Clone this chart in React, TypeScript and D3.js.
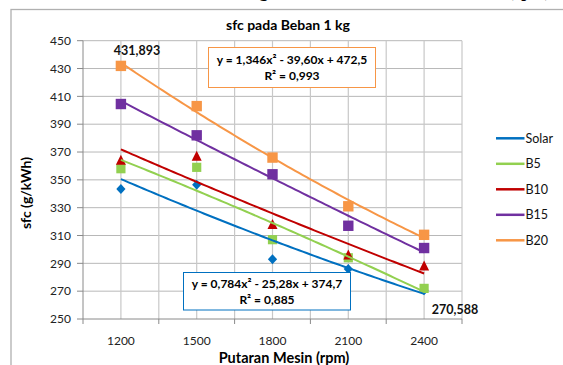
import React from 'react';
import * as d3 from 'd3';

// ---- data ----
const rpm = [1200, 1500, 1800, 2100, 2400];
const seriesNames = ['Solar', 'B5', 'B10', 'B15', 'B20'];
const solar = [343.5, 346.5, 293, 286, 270.588];
const b5 = [358, 359, 307, 294, 272];
const b10 = [364, 367, 318, 296, 288];
const b15 = [404.5, 382, 354, 317, 301];
const b20 = [431.893, 403, 366, 331, 310.5];
const yTicks = d3.range(250, 451, 20);
const title = 'sfc pada Beban 1 kg';
const xTitle = 'Putaran Mesin (rpm)';
const yTitle = 'sfc (g/kWh)';
const eqB20 = ['y = 1,346x² - 39,60x + 472,5', 'R² = 0,993'];
const eqSolar = ['y = 0,784x² - 25,28x + 374,7', 'R² = 0,885'];
const labelMax = '431,893';
const labelMin = '270,588';

const colors = ['#0070C0', '#92D050', '#C00000', '#7030A0', '#F79646'];
const markerTypes = ['diamond', 'squareS', 'triangle', 'square', 'square'];
const allSeries = [solar, b5, b10, b15, b20];

const FONT = 'Lato, "Open Sans", sans-serif';

// quadratic least-squares fit, x = 1..n (Excel category index)
function polyfit2(ys: number[]) {
  const xs = ys.map((_, i) => i + 1);
  const S = [0, 0, 0, 0, 0];
  const T = [0, 0, 0];
  xs.forEach((x, i) => {
    for (let k = 0; k < 5; k++) S[k] += Math.pow(x, k);
    for (let k = 0; k < 3; k++) T[k] += Math.pow(x, k) * ys[i];
  });
  const A = [
    [S[0], S[1], S[2], T[0]],
    [S[1], S[2], S[3], T[1]],
    [S[2], S[3], S[4], T[2]],
  ];
  for (let i = 0; i < 3; i++) {
    for (let j = i + 1; j < 3; j++) {
      const f = A[j][i] / A[i][i];
      for (let k = i; k < 4; k++) A[j][k] -= f * A[i][k];
    }
  }
  const c = [0, 0, 0];
  for (let i = 2; i >= 0; i--) {
    let s = A[i][3];
    for (let k = i + 1; k < 3; k++) s -= A[i][k] * c[k];
    c[i] = s / A[i][i];
  }
  return (x: number) => c[0] + c[1] * x + c[2] * x * x;
}

export default function App() {
  const W = 563, H = 365;
  const x = d3.scaleLinear().domain([1050, 2550]).range([83, 462]);
  const y = d3.scaleLinear().domain([250, 450]).range([319, 40.7]);
  const vGrid = d3.range(1200, 2551, 150);
  const xTickMarks = d3.range(1050, 2551, 300);

  const marker = (type: string, cx: number, cy: number, color: string, key: string) => {
    if (type === 'square') return <rect key={key} x={cx - 5.2} y={cy - 5.2} width={10.4} height={10.4} fill={color} />;
    if (type === 'squareS') return <rect key={key} x={cx - 4.6} y={cy - 4.6} width={9.2} height={9.2} fill={color} />;
    if (type === 'triangle') return <path key={key} d={`M${cx},${cy - 5.5}L${cx + 5},${cy + 4.5}L${cx - 5},${cy + 4.5}Z`} fill={color} />;
    return <path key={key} d={`M${cx},${cy - 5}L${cx + 4.6},${cy}L${cx},${cy + 5}L${cx - 4.6},${cy}Z`} fill={color} />;
  };

  const tSamples = d3.range(1, 5.0001, 0.05);
  const idxToRpm = (t: number) => rpm[0] + (t - 1) * (rpm[1] - rpm[0]);

  return (
    <svg width={W} height={H} style={{ position: 'absolute', left: 0, top: 0, background: '#fff' }} fontFamily={FONT}>
      {/* clipped document text above chart */}
      <text x={250} y={-3} fontFamily='"Liberation Serif", serif' fontSize={17} fontWeight="bold" fill="#000">kg</text>
      <text x={508} y={-3} fontFamily='"Liberation Serif", serif' fontSize={17} fontWeight="bold" fill="#000">(rpm)</text>

      {/* chart frame */}
      <rect x={11} y={9.5} width={700} height={500} fill="#fff" stroke="#b0b0b0" strokeWidth={1.3} />

      {/* title */}
      <text x={288} y={30} textAnchor="middle" fontSize={14} fontWeight="bold" fill="#000">{title}</text>

      {/* gridlines */}
      {yTicks.filter(v => v !== 250).map(v => (
        <line key={'h' + v} x1={83} x2={462} y1={y(v)} y2={y(v)} stroke="#b8b8b8" strokeWidth={1} />
      ))}
      {vGrid.map(v => (
        <line key={'v' + v} x1={x(v)} x2={x(v)} y1={40.7} y2={319} stroke="#c8c8c8" strokeWidth={1.2} />
      ))}

      {/* axes */}
      <line x1={83} x2={83} y1={40.7} y2={319} stroke="#8a8a8a" strokeWidth={1} />
      <line x1={83} x2={462} y1={319} y2={319} stroke="#8a8a8a" strokeWidth={1} />
      {yTicks.map(v => (
        <g key={'yt' + v}>
          <line x1={77} x2={83} y1={y(v)} y2={y(v)} stroke="#8a8a8a" />
          <text x={71} y={y(v)} dy="0.35em" textAnchor="end" fontSize={12} fill="#222">{v}</text>
        </g>
      ))}
      {xTickMarks.map(v => (
        <line key={'xt' + v} x1={x(v)} x2={x(v)} y1={319} y2={324} stroke="#8a8a8a" />
      ))}
      {rpm.map(v => (
        <text key={'xl' + v} x={x(v)} y={344.5} textAnchor="middle" fontSize={12} fill="#222">{v}</text>
      ))}

      {/* axis titles */}
      <text x={284} y={362.5} textAnchor="middle" fontSize={14.5} fontWeight="bold" fill="#000">{xTitle}</text>
      <text transform="translate(31,193) rotate(-90)" textAnchor="middle" fontSize={14} fontWeight="bold" fill="#000">{yTitle}</text>

      {/* markers */}
      {allSeries.map((s, si) => s.map((v, i) => marker(markerTypes[si], x(rpm[i]), y(v), colors[si], `m${si}-${i}`)))}

      {/* polynomial trendlines */}
      {allSeries.map((s, si) => {
        const f = polyfit2(s);
        const line = d3.line<number>().x(t => x(idxToRpm(t))).y(t => y(f(t)));
        return <path key={'tr' + si} d={line(tSamples) || ''} fill="none" stroke={colors[si]} strokeWidth={2} />;
      })}

      {/* data labels */}
      <text x={137} y={55} textAnchor="middle" fontSize={12.5} fontWeight="bold" fill="#111">{labelMax}</text>
      <text x={455} y={314} textAnchor="middle" fontSize={12.5} fontWeight="bold" fill="#111">{labelMin}</text>

      {/* equation boxes */}
      <rect x={208.5} y={47.5} width={167} height={40} fill="#fff" stroke="#F79646" strokeWidth={1} />
      <text x={292} y={63.5} textAnchor="middle" fontSize={12} fontWeight="bold" fill="#000">{eqB20[0]}</text>
      <text x={292} y={80} textAnchor="middle" fontSize={12} fontWeight="bold" fill="#000">{eqB20[1]}</text>

      <rect x={183.5} y={272.5} width={167} height={37.5} fill="#fff" stroke="#0070C0" strokeWidth={1} />
      <text x={267} y={288} textAnchor="middle" fontSize={12} fontWeight="bold" fill="#000">{eqSolar[0]}</text>
      <text x={267} y={304} textAnchor="middle" fontSize={12} fontWeight="bold" fill="#000">{eqSolar[1]}</text>

      {/* legend */}
      {seriesNames.map((n, i) => {
        const ly = 138.3 + i * 25.5;
        return (
          <g key={'lg' + n}>
            <line x1={496} x2={524.5} y1={ly} y2={ly} stroke={colors[i]} strokeWidth={2.5} />
            <text x={525.5} y={ly} dy="0.35em" fontSize={12.5} fill="#111">{n}</text>
          </g>
        );
      })}
    </svg>
  );
}
